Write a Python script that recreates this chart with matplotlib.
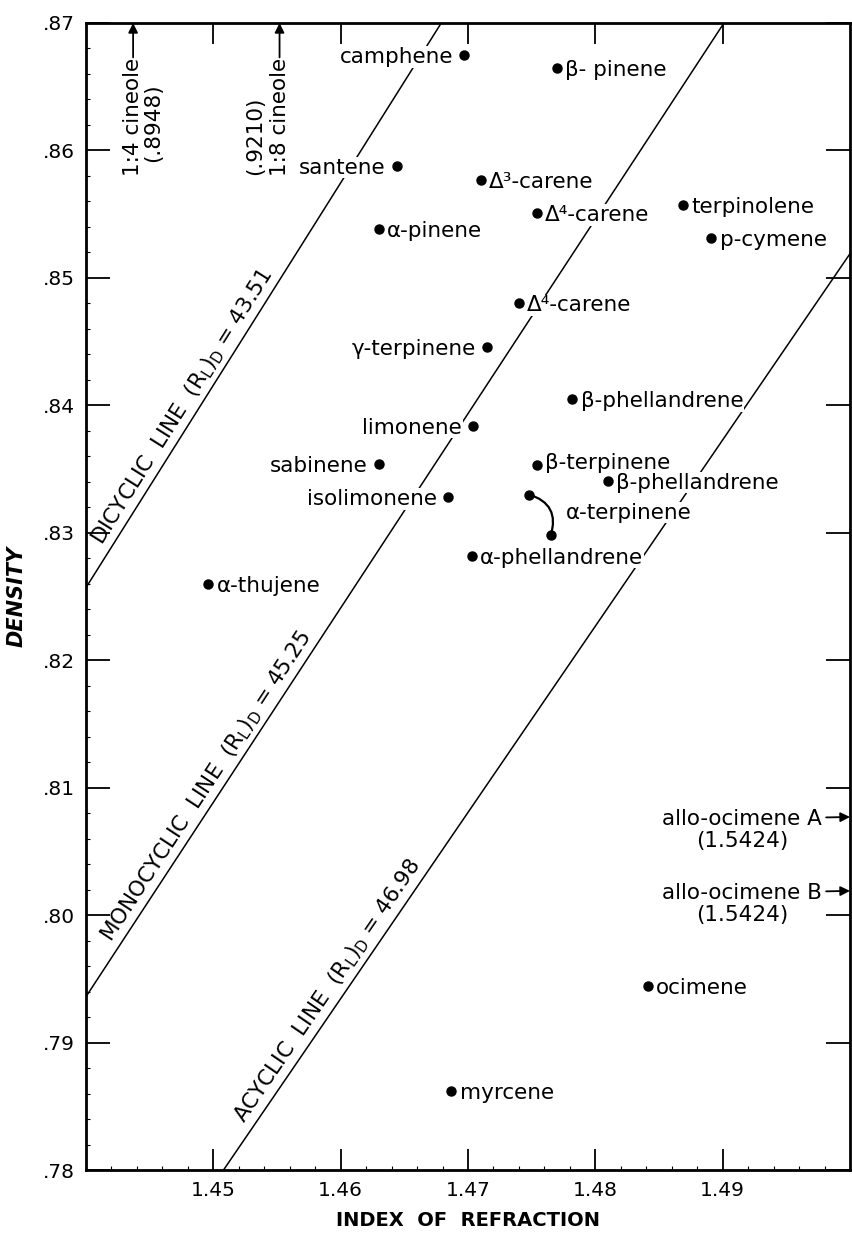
import numpy as np
import matplotlib.pyplot as plt

plt.rcParams['font.family'] = ['DejaVu Sans']
plt.rcParams['mathtext.fontset'] = 'dejavusans'

# terpenes, label written to the right of the dot
names_r = ["β- pinene", "Δ³-carene", "Δ⁴-carene", "terpinolene", "α-pinene",
           "p-cymene", "Δ⁴-carene", "β-phellandrene", "β-terpinene",
           "β-phellandrene", "α-phellandrene", "α-thujene", "ocimene", "myrcene"]
n_r = [1.4770, 1.4710, 1.4754, 1.4869, 1.4630, 1.4891, 1.4740, 1.4782, 1.4754,
       1.4810, 1.4703, 1.4496, 1.4841, 1.4687]
d_r = [0.8665, 0.8577, 0.8551, 0.8557, 0.8538, 0.8531, 0.8480, 0.8405, 0.8353,
       0.8341, 0.8282, 0.8260, 0.7944, 0.7862]

# terpenes, label written to the left of the dot
names_l = ["camphene", "santene", "γ-terpinene", "limonene", "sabinene", "isolimonene"]
n_l = [1.4697, 1.4644, 1.4715, 1.4704, 1.4630, 1.4684]
d_l = [0.8675, 0.8588, 0.8446, 0.8384, 0.8354, 0.8328]

# alpha-terpinene (two values, joined)
aterp_n = [1.4748, 1.4765]
aterp_d = [0.8330, 0.8298]

# refraction lines (end points)
line_names = ["DICYCLIC  LINE", "MONOCYCLIC  LINE", "ACYCLIC  LINE"]
line_rl = ["43.51", "45.25", "46.98"]
line_n = [[1.4400, 1.4679], [1.4400, 1.4901], [1.4508, 1.5000]]
line_d = [[0.8257, 0.8700], [0.7936, 0.8700], [0.7800, 0.8519]]

# off-scale compounds
cineole_n = [1.4437, 1.4552]
cineole_lab = ["1:4 cineole", "1:8 cineole"]
cineole_dens = ["(.8948)", "(.9210)"]
allo_d = [0.8077, 0.8019]
allo_lab = ["allo-ocimene A", "allo-ocimene B"]
allo_index = "(1.5424)"

xticks = [1.45, 1.46, 1.47, 1.48, 1.49]
xlabels = ["1.45", "1.46", "1.47", "1.48", "1.49"]
yticks = [0.78, 0.79, 0.80, 0.81, 0.82, 0.83, 0.84, 0.85, 0.86, 0.87]
ylabels = [".78", ".79", ".80", ".81", ".82", ".83", ".84", ".85", ".86", ".87"]

fs = 15.5
fig = plt.figure(figsize=(8.52, 12.35), dpi=100)
ax = fig.add_axes([86/852, 65/1235, 764/852, 1147/1235])
ax.set_xlim(1.44, 1.50)
ax.set_ylim(0.78, 0.87)

for s in ax.spines.values():
    s.set_linewidth(2)
ax.set_xticks(xticks)
ax.set_xticklabels(xlabels)
ax.set_yticks(yticks)
ax.set_yticklabels(ylabels)
ax.set_xticks(np.arange(1.442, 1.5, 0.002), minor=True)
ax.set_yticks(np.arange(0.782, 0.87, 0.002), minor=True)
ax.tick_params(which='major', direction='in', top=True, right=True,
               labelsize=14.5, width=1.3)
ax.tick_params(axis='x', which='major', length=15, pad=8)
ax.tick_params(axis='y', which='major', length=17, pad=8)
ax.tick_params(which='minor', direction='in', length=3, width=0.8)

ax.set_xlabel("INDEX  OF  REFRACTION", fontsize=14, fontweight='bold', labelpad=8)
ax.set_ylabel("DENSITY", fontsize=15, fontweight='bold', style='italic', labelpad=12)

# refraction lines with their labels
for i in range(3):
    ax.plot(line_n[i], line_d[i], color='k', lw=1.1, zorder=1)
    p0 = ax.transData.transform((line_n[i][0], line_d[i][0]))
    p1 = ax.transData.transform((line_n[i][1], line_d[i][1]))
    ang = np.degrees(np.arctan2(p1[1] - p0[1], p1[0] - p0[0]))
    f = [0.065, 0.05, 0.045][i]
    xn = line_n[i][0] + f * (line_n[i][1] - line_n[i][0])
    yd = line_d[i][0] + f * (line_d[i][1] - line_d[i][0])
    off = (-2 * np.sin(np.radians(ang)), 2 * np.cos(np.radians(ang)))
    ax.annotate(line_names[i] + r"  $(\mathrm{R}_\mathrm{L})_\mathrm{D}$ = " + line_rl[i],
                (xn, yd), xytext=off, textcoords='offset points',
                rotation=ang, rotation_mode='anchor', ha='left', va='bottom',
                fontsize=fs)

# points
ax.plot(n_r, d_r, 'o', color='k', ms=6.5, zorder=4)
ax.plot(n_l, d_l, 'o', color='k', ms=6.5, zorder=4)
ax.plot(aterp_n, aterp_d, 'o', color='k', ms=6.5, zorder=4)

box = dict(fc='white', ec='none', pad=0.5)
for name, x, y in zip(names_r, n_r, d_r):
    dy = 3 if name == "β-terpinene" else 0
    ax.annotate(name, (x, y), xytext=(6, dy), textcoords='offset points',
                ha='left', va='center_baseline', fontsize=fs, bbox=box, zorder=3)
for name, x, y in zip(names_l, n_l, d_l):
    ax.annotate(name, (x, y), xytext=(-8, 0), textcoords='offset points',
                ha='right', va='center_baseline', fontsize=fs, bbox=box, zorder=3)

ax.annotate("", xy=(aterp_n[1], aterp_d[1]), xytext=(aterp_n[0], aterp_d[0]),
            arrowprops=dict(arrowstyle='-', lw=1.6, color='k', shrinkA=0, shrinkB=0,
                            connectionstyle='arc3,rad=-0.5'))
ax.annotate("α-terpinene", (aterp_n[1], (aterp_d[0] + aterp_d[1]) / 2),
            xytext=(11, 3), textcoords='offset points', ha='left',
            va='center_baseline', fontsize=fs, bbox=box, zorder=3)

# cineoles: off the top of the scale
for i in range(2):
    ax.annotate("", xy=(cineole_n[i], 0.87), xytext=(cineole_n[i], 0.8673),
                arrowprops=dict(arrowstyle='-|>', lw=1.3, color='k',
                                shrinkA=0, shrinkB=0, mutation_scale=14),
                annotation_clip=False)
    ax.text(cineole_n[i], 0.8673, cineole_lab[i], rotation=90, ha='center',
            va='top', fontsize=fs)
ax.text(1.44528, 0.8653, cineole_dens[0], rotation=90, ha='center', va='top', fontsize=fs)
ax.text(1.45331, 0.8642, cineole_dens[1], rotation=90, ha='center', va='top', fontsize=fs)

# allo-ocimenes: off the right of the scale
for i in range(2):
    ax.annotate(allo_lab[i], xy=(1.50, allo_d[i]), xytext=(1.4978, allo_d[i]),
                ha='right', va='center_baseline', fontsize=fs,
                arrowprops=dict(arrowstyle='-|>', lw=1.3, color='k',
                                shrinkA=1, shrinkB=0, mutation_scale=14),
                annotation_clip=False)
    ax.text(1.4915, allo_d[i] - 0.0017, allo_index, ha='center',
            va='center_baseline', fontsize=fs)

fig.savefig("out.png", dpi=100)
